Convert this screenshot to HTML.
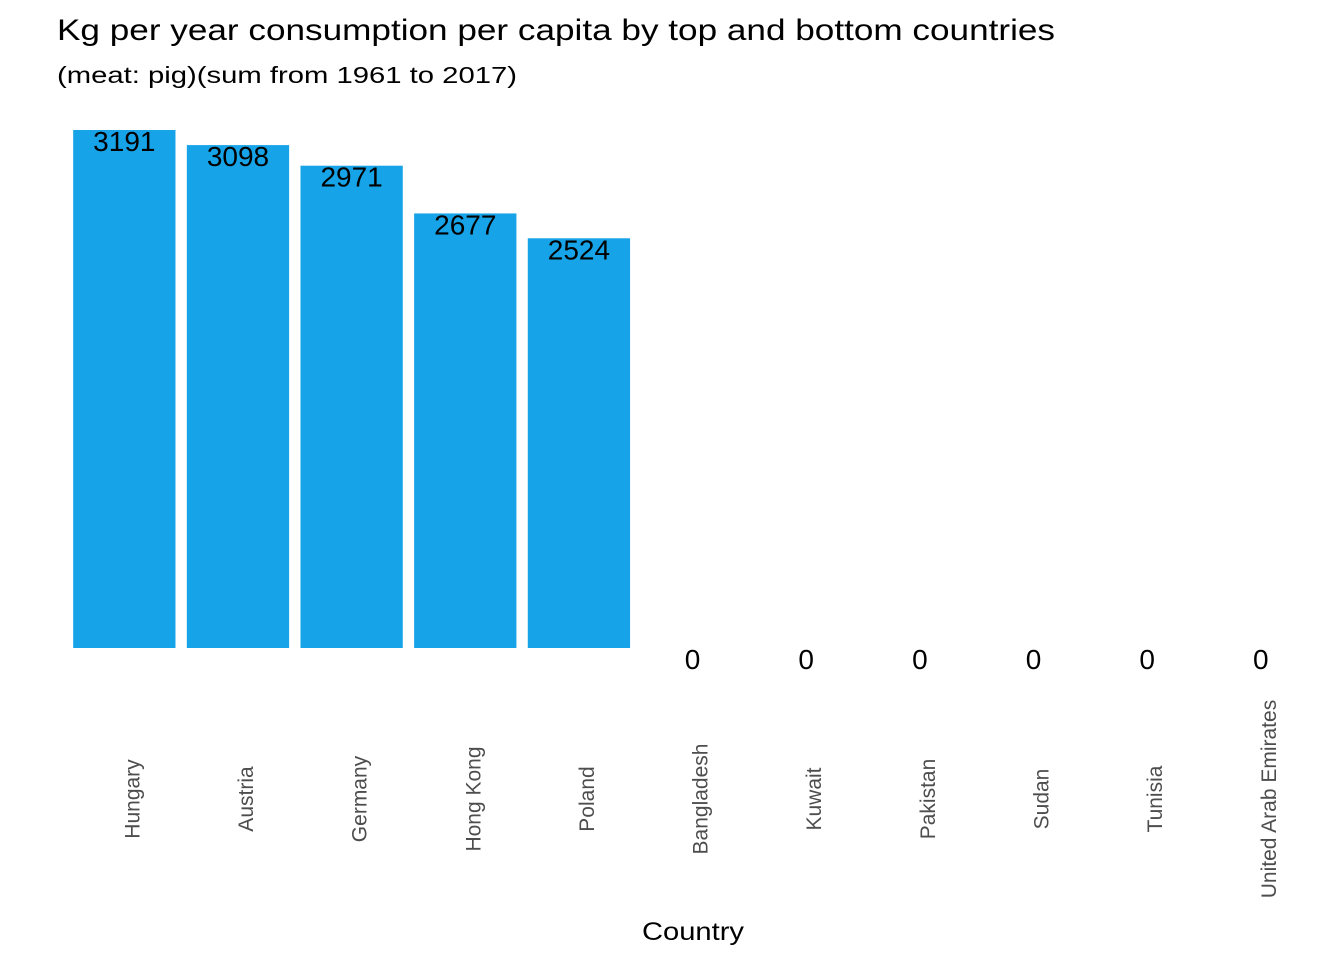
<!DOCTYPE html>
<html><head><meta charset="utf-8"><style>
html,body{margin:0;padding:0;background:#fff}
svg{display:block;font-family:"Liberation Sans",Arial,sans-serif}
</style></head><body>
<svg id="chart" width="1344" height="960">
<text x="57" y="40" font-size="30" textLength="998" lengthAdjust="spacingAndGlyphs" fill="#000">Kg per year consumption per capita by top and bottom countries</text>
<text x="57" y="83" font-size="23" textLength="460" lengthAdjust="spacingAndGlyphs" fill="#000">(meat: pig)(sum from 1961 to 2017)</text>
<text x="642" y="940" font-size="25" textLength="102" lengthAdjust="spacingAndGlyphs" fill="#000">Country</text>
<g id="bars"></g>
</svg>
<script>
const categories=["Hungary","Austria","Germany","Hong Kong","Poland","Bangladesh","Kuwait","Pakistan","Sudan","Tunisia","United Arab Emirates"];
const values=[3191,3098,2971,2677,2524,0,0,0,0,0,0];
const valueLabels=["3191","3098","2971","2677","2524","0","0","0","0","0","0"];
const x0=67.5,step=113.65,base=648,plotTop=130,maxV=3191;
function xCenter(i){return x0+step*(i+0.5);}
function yScale(v){return base-(v/maxV)*(base-plotTop);}
const g=document.getElementById('bars');
const ns="http://www.w3.org/2000/svg";
categories.forEach((c,i)=>{
  const cx=xCenter(i),w=step*0.9;
  if(values[i]>0){
    const r=document.createElementNS(ns,'rect');
    r.setAttribute('x',cx-w/2);r.setAttribute('y',yScale(values[i]));
    r.setAttribute('width',w);r.setAttribute('height',base-yScale(values[i]));
    r.setAttribute('fill','#16a3e8');
    
    
    g.appendChild(r);
  }
  const t=document.createElementNS(ns,'text');
  t.setAttribute('x',cx);t.setAttribute('y',yScale(values[i])+21);
  t.setAttribute('text-anchor','middle');t.setAttribute('font-size','28');
  t.textContent=valueLabels[i];
  
  
  g.appendChild(t);
  const l=document.createElementNS(ns,'text');
  const lx=cx+15,ly=799;
  l.setAttribute('x',lx);l.setAttribute('y',ly);
  l.setAttribute('transform','rotate(-90 '+lx+' '+ly+')');
  l.setAttribute('text-anchor','middle');l.setAttribute('font-size','21');
  l.setAttribute('fill','#4d4d4d');
  l.textContent=c;
  
  
  g.appendChild(l);
});
</script>
</body></html>
